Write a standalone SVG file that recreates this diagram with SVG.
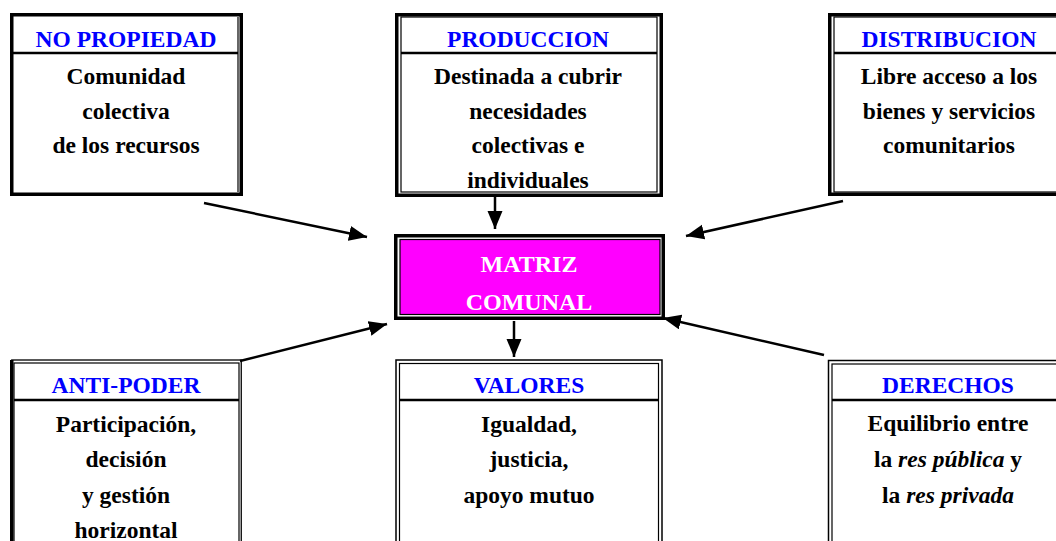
<svg xmlns="http://www.w3.org/2000/svg" width="1056" height="541" viewBox="0 0 1056 541">
<style>
.outer{fill:#fff;stroke:#000;stroke-width:3.5}
.inner{fill:none;stroke:#000;stroke-width:1.2}
.sep{stroke:#000;stroke-width:2.5}
text{font-family:"Liberation Serif","Times New Roman",serif;font-weight:bold;font-size:23.5px;text-anchor:middle}
.ttl{fill:#0000ff}
.body{fill:#000}
.mat{fill:#fff;font-size:24px}
.it{font-style:italic}
.conn{stroke:#000;stroke-width:2.5;fill:none}
</style>
<defs>
<marker id="ah" markerUnits="userSpaceOnUse" markerWidth="19" markerHeight="16" refX="18" refY="7.5" orient="auto">
<path d="M0,0 L18,7.5 L0,15 z" fill="#000"/>
</marker>
</defs>
<rect width="1056" height="541" fill="#fff"/>

<g id="no-propiedad">
<rect class="outer" x="11.75" y="14.75" width="229.5" height="179.5"/>
<line class="inner" x1="238" y1="17" x2="238" y2="192"/>
<line class="sep" x1="13" y1="53" x2="238" y2="53"/>
<text class="ttl" x="126" y="47">NO PROPIEDAD</text>
<text class="body" x="126" y="84">Comunidad</text>
<text class="body" x="126" y="119">colectiva</text>
<text class="body" x="126" y="153">de los recursos</text>
</g>

<g id="produccion">
<rect class="outer" x="396.75" y="14.75" width="264.5" height="180.5"/>
<rect class="inner" x="401" y="17" width="256" height="175"/>
<line class="sep" x1="401" y1="53" x2="657" y2="53"/>
<text class="ttl" x="528" y="47">PRODUCCION</text>
<text class="body" x="528" y="84">Destinada a cubrir</text>
<text class="body" x="528" y="119">necesidades</text>
<text class="body" x="528" y="153">colectivas e</text>
<text class="body" x="528" y="188">individuales</text>
</g>

<g id="distribucion">
<rect class="outer" x="829.75" y="14.75" width="240" height="179.5"/>
<rect class="inner" x="834" y="17" width="232" height="175"/>
<line class="sep" x1="834" y1="53" x2="1066" y2="53"/>
<text class="ttl" x="949" y="47">DISTRIBUCION</text>
<text class="body" x="949" y="84">Libre acceso a los</text>
<text class="body" x="949" y="119">bienes y servicios</text>
<text class="body" x="949" y="153">comunitarios</text>
</g>

<g id="matriz-comunal">
<rect class="outer" x="395.75" y="235.75" width="267.5" height="82.5"/>
<rect x="400" y="239.5" width="260" height="75" fill="#ff00ff" stroke="#000" stroke-width="1.2"/>
<text class="mat" x="529" y="272">MATRIZ</text>
<text class="mat" x="529" y="310">COMUNAL</text>
</g>

<g id="anti-poder">
<rect class="outer" x="11.75" y="360" width="229.5" height="200" style="stroke-width:1.3"/>
<line x1="11.75" y1="360" x2="11.75" y2="560" stroke="#000" stroke-width="3.5"/>
<rect class="inner" x="14" y="363" width="225" height="200"/>
<line class="sep" x1="14" y1="400" x2="239" y2="400"/>
<text class="ttl" x="126" y="393">ANTI-PODER</text>
<text class="body" x="126" y="432">Participación,</text>
<text class="body" x="126" y="467">decisión</text>
<text class="body" x="126" y="503">y gestión</text>
<text class="body" x="126" y="538">horizontal</text>
</g>

<g id="valores">
<rect class="outer" x="396" y="360" width="266" height="200" style="stroke-width:1.5"/>
<rect class="inner" x="399.5" y="363.5" width="259" height="200"/>
<line class="sep" x1="400" y1="400" x2="658" y2="400"/>
<text class="ttl" x="529" y="393">VALORES</text>
<text class="body" x="529" y="432">Igualdad,</text>
<text class="body" x="529" y="467">justicia,</text>
<text class="body" x="529" y="503">apoyo mutuo</text>
</g>

<g id="derechos">
<rect class="outer" x="828.5" y="360.5" width="240" height="200" style="stroke-width:1.5"/>
<rect class="inner" x="832" y="364" width="234" height="200"/>
<line class="sep" x1="832" y1="400" x2="1066" y2="400"/>
<text class="ttl" x="948" y="393">DERECHOS</text>
<text class="body" x="948" y="431">Equilibrio entre</text>
<text class="body" x="948" y="467">la <tspan class="it">res pública</tspan> y</text>
<text class="body" x="948" y="503">la <tspan class="it">res privada</tspan></text>
</g>

<g id="connectors">
<line class="conn" x1="204" y1="203" x2="367" y2="237" marker-end="url(#ah)"/>
<line class="conn" x1="495" y1="197" x2="495" y2="229" marker-end="url(#ah)"/>
<line class="conn" x1="843" y1="201" x2="686" y2="236" marker-end="url(#ah)"/>
<line class="conn" x1="240" y1="361" x2="387" y2="324" marker-end="url(#ah)"/>
<line class="conn" x1="514" y1="321" x2="514" y2="357" marker-end="url(#ah)"/>
<line class="conn" x1="824" y1="355" x2="663" y2="318" marker-end="url(#ah)"/>
</g>
</svg>
